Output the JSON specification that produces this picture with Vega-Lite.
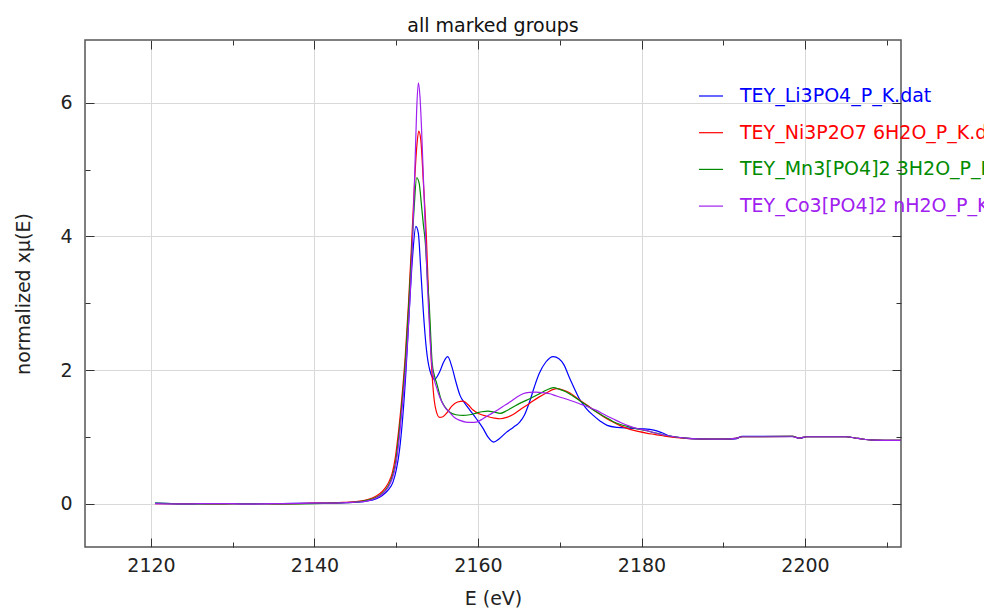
{
  "$schema": "https://vega.github.io/schema/vega-lite/v6.json",
  "autosize": {"type": "none"},
  "padding": {"left": 85, "top": 40, "right": 83, "bottom": 65},
  "width": 816,
  "height": 507,
  "title": {"text": "all marked groups", "fontSize": 19, "font": "DejaVu Sans", "fontWeight": "normal", "color": "#111", "offset": 4},
  "config": {
    "font": "DejaVu Sans",
    "view": {"stroke": "#555", "strokeWidth": 1.5},
    "axis": {"labelFont": "DejaVu Sans", "labelFontSize": 19, "labelColor": "#222", "titleFont": "DejaVu Sans", "titleFontSize": 19, "titleFontWeight": "normal", "titleColor": "#222", "tickColor": "#333", "tickWidth": 1, "gridColor": "#d9d9d9", "gridWidth": 1}
  },
  "data": {"values": [
    {"group": "TEY_Li3PO4_P_K.dat", "E": 2120.5, "mu": 0.005},
    {"group": "TEY_Li3PO4_P_K.dat", "E": 2124, "mu": -0.005},
    {"group": "TEY_Li3PO4_P_K.dat", "E": 2128, "mu": 0.0},
    {"group": "TEY_Li3PO4_P_K.dat", "E": 2132, "mu": -0.005},
    {"group": "TEY_Li3PO4_P_K.dat", "E": 2136, "mu": 0.0},
    {"group": "TEY_Li3PO4_P_K.dat", "E": 2140, "mu": 0.005},
    {"group": "TEY_Li3PO4_P_K.dat", "E": 2143, "mu": 0.01},
    {"group": "TEY_Li3PO4_P_K.dat", "E": 2145, "mu": 0.02},
    {"group": "TEY_Li3PO4_P_K.dat", "E": 2146.5, "mu": 0.04},
    {"group": "TEY_Li3PO4_P_K.dat", "E": 2147.5, "mu": 0.07},
    {"group": "TEY_Li3PO4_P_K.dat", "E": 2148.3, "mu": 0.12},
    {"group": "TEY_Li3PO4_P_K.dat", "E": 2149, "mu": 0.2},
    {"group": "TEY_Li3PO4_P_K.dat", "E": 2149.6, "mu": 0.32},
    {"group": "TEY_Li3PO4_P_K.dat", "E": 2150.0, "mu": 0.5},
    {"group": "TEY_Li3PO4_P_K.dat", "E": 2150.4, "mu": 0.8},
    {"group": "TEY_Li3PO4_P_K.dat", "E": 2150.8, "mu": 1.3},
    {"group": "TEY_Li3PO4_P_K.dat", "E": 2151.2, "mu": 2.0},
    {"group": "TEY_Li3PO4_P_K.dat", "E": 2151.6, "mu": 2.9},
    {"group": "TEY_Li3PO4_P_K.dat", "E": 2152.0, "mu": 3.7},
    {"group": "TEY_Li3PO4_P_K.dat", "E": 2152.4, "mu": 4.15},
    {"group": "TEY_Li3PO4_P_K.dat", "E": 2152.7, "mu": 4.05},
    {"group": "TEY_Li3PO4_P_K.dat", "E": 2153.0, "mu": 3.5},
    {"group": "TEY_Li3PO4_P_K.dat", "E": 2153.3, "mu": 2.9},
    {"group": "TEY_Li3PO4_P_K.dat", "E": 2153.7, "mu": 2.3},
    {"group": "TEY_Li3PO4_P_K.dat", "E": 2154.1, "mu": 2.0},
    {"group": "TEY_Li3PO4_P_K.dat", "E": 2154.7, "mu": 1.86},
    {"group": "TEY_Li3PO4_P_K.dat", "E": 2155.3, "mu": 1.97},
    {"group": "TEY_Li3PO4_P_K.dat", "E": 2155.8, "mu": 2.12},
    {"group": "TEY_Li3PO4_P_K.dat", "E": 2156.3, "mu": 2.2},
    {"group": "TEY_Li3PO4_P_K.dat", "E": 2156.8, "mu": 2.05},
    {"group": "TEY_Li3PO4_P_K.dat", "E": 2157.3, "mu": 1.82},
    {"group": "TEY_Li3PO4_P_K.dat", "E": 2157.8, "mu": 1.62},
    {"group": "TEY_Li3PO4_P_K.dat", "E": 2158.4, "mu": 1.5},
    {"group": "TEY_Li3PO4_P_K.dat", "E": 2159.0, "mu": 1.4},
    {"group": "TEY_Li3PO4_P_K.dat", "E": 2159.8, "mu": 1.27},
    {"group": "TEY_Li3PO4_P_K.dat", "E": 2160.6, "mu": 1.13},
    {"group": "TEY_Li3PO4_P_K.dat", "E": 2161.2, "mu": 1.0},
    {"group": "TEY_Li3PO4_P_K.dat", "E": 2161.9, "mu": 0.92},
    {"group": "TEY_Li3PO4_P_K.dat", "E": 2162.6, "mu": 0.97},
    {"group": "TEY_Li3PO4_P_K.dat", "E": 2163.5, "mu": 1.07},
    {"group": "TEY_Li3PO4_P_K.dat", "E": 2164.3, "mu": 1.14},
    {"group": "TEY_Li3PO4_P_K.dat", "E": 2165.1, "mu": 1.22},
    {"group": "TEY_Li3PO4_P_K.dat", "E": 2165.7, "mu": 1.33},
    {"group": "TEY_Li3PO4_P_K.dat", "E": 2166.3, "mu": 1.52},
    {"group": "TEY_Li3PO4_P_K.dat", "E": 2166.9, "mu": 1.75},
    {"group": "TEY_Li3PO4_P_K.dat", "E": 2167.5, "mu": 1.95},
    {"group": "TEY_Li3PO4_P_K.dat", "E": 2168.3, "mu": 2.12},
    {"group": "TEY_Li3PO4_P_K.dat", "E": 2169.2, "mu": 2.2},
    {"group": "TEY_Li3PO4_P_K.dat", "E": 2169.9, "mu": 2.17},
    {"group": "TEY_Li3PO4_P_K.dat", "E": 2170.5, "mu": 2.08},
    {"group": "TEY_Li3PO4_P_K.dat", "E": 2171.2, "mu": 1.88},
    {"group": "TEY_Li3PO4_P_K.dat", "E": 2171.8, "mu": 1.72},
    {"group": "TEY_Li3PO4_P_K.dat", "E": 2172.4, "mu": 1.57},
    {"group": "TEY_Li3PO4_P_K.dat", "E": 2173.2, "mu": 1.43},
    {"group": "TEY_Li3PO4_P_K.dat", "E": 2174.1, "mu": 1.32},
    {"group": "TEY_Li3PO4_P_K.dat", "E": 2175.0, "mu": 1.23},
    {"group": "TEY_Li3PO4_P_K.dat", "E": 2175.8, "mu": 1.17},
    {"group": "TEY_Li3PO4_P_K.dat", "E": 2177.0, "mu": 1.14},
    {"group": "TEY_Li3PO4_P_K.dat", "E": 2178.5, "mu": 1.13},
    {"group": "TEY_Li3PO4_P_K.dat", "E": 2180.0, "mu": 1.12},
    {"group": "TEY_Li3PO4_P_K.dat", "E": 2181.5, "mu": 1.1},
    {"group": "TEY_Li3PO4_P_K.dat", "E": 2182.5, "mu": 1.06},
    {"group": "TEY_Li3PO4_P_K.dat", "E": 2183.5, "mu": 1.01},
    {"group": "TEY_Li3PO4_P_K.dat", "E": 2185, "mu": 0.985},
    {"group": "TEY_Li3PO4_P_K.dat", "E": 2186.5, "mu": 0.97},
    {"group": "TEY_Li3PO4_P_K.dat", "E": 2190, "mu": 0.965},
    {"group": "TEY_Li3PO4_P_K.dat", "E": 2191.5, "mu": 0.97},
    {"group": "TEY_Li3PO4_P_K.dat", "E": 2192.3, "mu": 1.005},
    {"group": "TEY_Li3PO4_P_K.dat", "E": 2198.5, "mu": 1.005},
    {"group": "TEY_Li3PO4_P_K.dat", "E": 2199.3, "mu": 0.975},
    {"group": "TEY_Li3PO4_P_K.dat", "E": 2200.2, "mu": 1.0},
    {"group": "TEY_Li3PO4_P_K.dat", "E": 2205, "mu": 1.0},
    {"group": "TEY_Li3PO4_P_K.dat", "E": 2206.5, "mu": 0.975},
    {"group": "TEY_Li3PO4_P_K.dat", "E": 2208.3, "mu": 0.95},
    {"group": "TEY_Li3PO4_P_K.dat", "E": 2211.7, "mu": 0.945},

    {"group": "TEY_Ni3P2O7 6H2O_P_K.dat", "E": 2120.5, "mu": 0.0},
    {"group": "TEY_Ni3P2O7 6H2O_P_K.dat", "E": 2124, "mu": 0.0},
    {"group": "TEY_Ni3P2O7 6H2O_P_K.dat", "E": 2128, "mu": -0.005},
    {"group": "TEY_Ni3P2O7 6H2O_P_K.dat", "E": 2132, "mu": 0.0},
    {"group": "TEY_Ni3P2O7 6H2O_P_K.dat", "E": 2136, "mu": -0.005},
    {"group": "TEY_Ni3P2O7 6H2O_P_K.dat", "E": 2140, "mu": 0.005},
    {"group": "TEY_Ni3P2O7 6H2O_P_K.dat", "E": 2143, "mu": 0.015},
    {"group": "TEY_Ni3P2O7 6H2O_P_K.dat", "E": 2145, "mu": 0.03},
    {"group": "TEY_Ni3P2O7 6H2O_P_K.dat", "E": 2146.5, "mu": 0.06},
    {"group": "TEY_Ni3P2O7 6H2O_P_K.dat", "E": 2147.5, "mu": 0.11},
    {"group": "TEY_Ni3P2O7 6H2O_P_K.dat", "E": 2148.3, "mu": 0.18},
    {"group": "TEY_Ni3P2O7 6H2O_P_K.dat", "E": 2149.0, "mu": 0.3},
    {"group": "TEY_Ni3P2O7 6H2O_P_K.dat", "E": 2149.5, "mu": 0.45},
    {"group": "TEY_Ni3P2O7 6H2O_P_K.dat", "E": 2149.9, "mu": 0.7},
    {"group": "TEY_Ni3P2O7 6H2O_P_K.dat", "E": 2150.3, "mu": 1.1},
    {"group": "TEY_Ni3P2O7 6H2O_P_K.dat", "E": 2150.7, "mu": 1.6},
    {"group": "TEY_Ni3P2O7 6H2O_P_K.dat", "E": 2151.1, "mu": 2.2},
    {"group": "TEY_Ni3P2O7 6H2O_P_K.dat", "E": 2151.5, "mu": 3.0},
    {"group": "TEY_Ni3P2O7 6H2O_P_K.dat", "E": 2151.9, "mu": 3.95},
    {"group": "TEY_Ni3P2O7 6H2O_P_K.dat", "E": 2152.3, "mu": 4.95},
    {"group": "TEY_Ni3P2O7 6H2O_P_K.dat", "E": 2152.55, "mu": 5.4},
    {"group": "TEY_Ni3P2O7 6H2O_P_K.dat", "E": 2152.75, "mu": 5.58},
    {"group": "TEY_Ni3P2O7 6H2O_P_K.dat", "E": 2153.0, "mu": 5.45},
    {"group": "TEY_Ni3P2O7 6H2O_P_K.dat", "E": 2153.3, "mu": 4.85},
    {"group": "TEY_Ni3P2O7 6H2O_P_K.dat", "E": 2153.7, "mu": 3.95},
    {"group": "TEY_Ni3P2O7 6H2O_P_K.dat", "E": 2154.0, "mu": 2.94},
    {"group": "TEY_Ni3P2O7 6H2O_P_K.dat", "E": 2154.3, "mu": 2.1},
    {"group": "TEY_Ni3P2O7 6H2O_P_K.dat", "E": 2154.6, "mu": 1.6},
    {"group": "TEY_Ni3P2O7 6H2O_P_K.dat", "E": 2154.9, "mu": 1.38},
    {"group": "TEY_Ni3P2O7 6H2O_P_K.dat", "E": 2155.3, "mu": 1.29},
    {"group": "TEY_Ni3P2O7 6H2O_P_K.dat", "E": 2155.7, "mu": 1.3},
    {"group": "TEY_Ni3P2O7 6H2O_P_K.dat", "E": 2156.2, "mu": 1.36},
    {"group": "TEY_Ni3P2O7 6H2O_P_K.dat", "E": 2156.8, "mu": 1.46},
    {"group": "TEY_Ni3P2O7 6H2O_P_K.dat", "E": 2157.5, "mu": 1.52},
    {"group": "TEY_Ni3P2O7 6H2O_P_K.dat", "E": 2158.2, "mu": 1.535},
    {"group": "TEY_Ni3P2O7 6H2O_P_K.dat", "E": 2158.8, "mu": 1.48},
    {"group": "TEY_Ni3P2O7 6H2O_P_K.dat", "E": 2159.4, "mu": 1.4},
    {"group": "TEY_Ni3P2O7 6H2O_P_K.dat", "E": 2160.2, "mu": 1.34},
    {"group": "TEY_Ni3P2O7 6H2O_P_K.dat", "E": 2161.0, "mu": 1.31},
    {"group": "TEY_Ni3P2O7 6H2O_P_K.dat", "E": 2162.0, "mu": 1.28},
    {"group": "TEY_Ni3P2O7 6H2O_P_K.dat", "E": 2162.7, "mu": 1.27},
    {"group": "TEY_Ni3P2O7 6H2O_P_K.dat", "E": 2163.5, "mu": 1.29},
    {"group": "TEY_Ni3P2O7 6H2O_P_K.dat", "E": 2164.3, "mu": 1.335},
    {"group": "TEY_Ni3P2O7 6H2O_P_K.dat", "E": 2165.3, "mu": 1.42},
    {"group": "TEY_Ni3P2O7 6H2O_P_K.dat", "E": 2166.3, "mu": 1.5},
    {"group": "TEY_Ni3P2O7 6H2O_P_K.dat", "E": 2167.4, "mu": 1.59},
    {"group": "TEY_Ni3P2O7 6H2O_P_K.dat", "E": 2168.4, "mu": 1.66},
    {"group": "TEY_Ni3P2O7 6H2O_P_K.dat", "E": 2169.6, "mu": 1.72},
    {"group": "TEY_Ni3P2O7 6H2O_P_K.dat", "E": 2170.4, "mu": 1.7},
    {"group": "TEY_Ni3P2O7 6H2O_P_K.dat", "E": 2171.2, "mu": 1.66},
    {"group": "TEY_Ni3P2O7 6H2O_P_K.dat", "E": 2172.4, "mu": 1.55},
    {"group": "TEY_Ni3P2O7 6H2O_P_K.dat", "E": 2173.5, "mu": 1.46},
    {"group": "TEY_Ni3P2O7 6H2O_P_K.dat", "E": 2174.5, "mu": 1.37},
    {"group": "TEY_Ni3P2O7 6H2O_P_K.dat", "E": 2175.5, "mu": 1.29},
    {"group": "TEY_Ni3P2O7 6H2O_P_K.dat", "E": 2176.5, "mu": 1.22},
    {"group": "TEY_Ni3P2O7 6H2O_P_K.dat", "E": 2177.5, "mu": 1.16},
    {"group": "TEY_Ni3P2O7 6H2O_P_K.dat", "E": 2178.6, "mu": 1.11},
    {"group": "TEY_Ni3P2O7 6H2O_P_K.dat", "E": 2179.6, "mu": 1.08},
    {"group": "TEY_Ni3P2O7 6H2O_P_K.dat", "E": 2180.6, "mu": 1.055},
    {"group": "TEY_Ni3P2O7 6H2O_P_K.dat", "E": 2181.6, "mu": 1.035},
    {"group": "TEY_Ni3P2O7 6H2O_P_K.dat", "E": 2182.6, "mu": 1.015},
    {"group": "TEY_Ni3P2O7 6H2O_P_K.dat", "E": 2184, "mu": 0.99},
    {"group": "TEY_Ni3P2O7 6H2O_P_K.dat", "E": 2185.5, "mu": 0.975},
    {"group": "TEY_Ni3P2O7 6H2O_P_K.dat", "E": 2187, "mu": 0.97},
    {"group": "TEY_Ni3P2O7 6H2O_P_K.dat", "E": 2190, "mu": 0.965},
    {"group": "TEY_Ni3P2O7 6H2O_P_K.dat", "E": 2191.5, "mu": 0.975},
    {"group": "TEY_Ni3P2O7 6H2O_P_K.dat", "E": 2192.3, "mu": 1.0},
    {"group": "TEY_Ni3P2O7 6H2O_P_K.dat", "E": 2198.5, "mu": 1.005},
    {"group": "TEY_Ni3P2O7 6H2O_P_K.dat", "E": 2199.3, "mu": 0.98},
    {"group": "TEY_Ni3P2O7 6H2O_P_K.dat", "E": 2200.2, "mu": 1.0},
    {"group": "TEY_Ni3P2O7 6H2O_P_K.dat", "E": 2205, "mu": 1.0},
    {"group": "TEY_Ni3P2O7 6H2O_P_K.dat", "E": 2206.5, "mu": 0.975},
    {"group": "TEY_Ni3P2O7 6H2O_P_K.dat", "E": 2208.3, "mu": 0.95},
    {"group": "TEY_Ni3P2O7 6H2O_P_K.dat", "E": 2211.7, "mu": 0.945},

    {"group": "TEY_Mn3[PO4]2 3H2O_P_K.dat", "E": 2120.5, "mu": 0.005},
    {"group": "TEY_Mn3[PO4]2 3H2O_P_K.dat", "E": 2124, "mu": -0.005},
    {"group": "TEY_Mn3[PO4]2 3H2O_P_K.dat", "E": 2128, "mu": -0.005},
    {"group": "TEY_Mn3[PO4]2 3H2O_P_K.dat", "E": 2132, "mu": 0.0},
    {"group": "TEY_Mn3[PO4]2 3H2O_P_K.dat", "E": 2136, "mu": -0.005},
    {"group": "TEY_Mn3[PO4]2 3H2O_P_K.dat", "E": 2140, "mu": 0.0},
    {"group": "TEY_Mn3[PO4]2 3H2O_P_K.dat", "E": 2143, "mu": 0.01},
    {"group": "TEY_Mn3[PO4]2 3H2O_P_K.dat", "E": 2145, "mu": 0.02},
    {"group": "TEY_Mn3[PO4]2 3H2O_P_K.dat", "E": 2146.5, "mu": 0.05},
    {"group": "TEY_Mn3[PO4]2 3H2O_P_K.dat", "E": 2147.5, "mu": 0.09},
    {"group": "TEY_Mn3[PO4]2 3H2O_P_K.dat", "E": 2148.3, "mu": 0.15},
    {"group": "TEY_Mn3[PO4]2 3H2O_P_K.dat", "E": 2149.0, "mu": 0.26},
    {"group": "TEY_Mn3[PO4]2 3H2O_P_K.dat", "E": 2149.5, "mu": 0.4},
    {"group": "TEY_Mn3[PO4]2 3H2O_P_K.dat", "E": 2149.9, "mu": 0.6},
    {"group": "TEY_Mn3[PO4]2 3H2O_P_K.dat", "E": 2150.3, "mu": 1.0},
    {"group": "TEY_Mn3[PO4]2 3H2O_P_K.dat", "E": 2150.7, "mu": 1.5},
    {"group": "TEY_Mn3[PO4]2 3H2O_P_K.dat", "E": 2151.1, "mu": 2.1},
    {"group": "TEY_Mn3[PO4]2 3H2O_P_K.dat", "E": 2151.5, "mu": 2.9},
    {"group": "TEY_Mn3[PO4]2 3H2O_P_K.dat", "E": 2151.9, "mu": 3.8},
    {"group": "TEY_Mn3[PO4]2 3H2O_P_K.dat", "E": 2152.2, "mu": 4.45},
    {"group": "TEY_Mn3[PO4]2 3H2O_P_K.dat", "E": 2152.5, "mu": 4.88},
    {"group": "TEY_Mn3[PO4]2 3H2O_P_K.dat", "E": 2152.8, "mu": 4.8},
    {"group": "TEY_Mn3[PO4]2 3H2O_P_K.dat", "E": 2153.1, "mu": 4.45},
    {"group": "TEY_Mn3[PO4]2 3H2O_P_K.dat", "E": 2153.3, "mu": 4.2},
    {"group": "TEY_Mn3[PO4]2 3H2O_P_K.dat", "E": 2153.56, "mu": 3.9},
    {"group": "TEY_Mn3[PO4]2 3H2O_P_K.dat", "E": 2153.8, "mu": 3.4},
    {"group": "TEY_Mn3[PO4]2 3H2O_P_K.dat", "E": 2154.05, "mu": 2.94},
    {"group": "TEY_Mn3[PO4]2 3H2O_P_K.dat", "E": 2154.4, "mu": 2.1},
    {"group": "TEY_Mn3[PO4]2 3H2O_P_K.dat", "E": 2154.7, "mu": 1.9},
    {"group": "TEY_Mn3[PO4]2 3H2O_P_K.dat", "E": 2154.95, "mu": 1.8},
    {"group": "TEY_Mn3[PO4]2 3H2O_P_K.dat", "E": 2155.5, "mu": 1.55},
    {"group": "TEY_Mn3[PO4]2 3H2O_P_K.dat", "E": 2156.0, "mu": 1.44},
    {"group": "TEY_Mn3[PO4]2 3H2O_P_K.dat", "E": 2156.5, "mu": 1.37},
    {"group": "TEY_Mn3[PO4]2 3H2O_P_K.dat", "E": 2157.3, "mu": 1.33},
    {"group": "TEY_Mn3[PO4]2 3H2O_P_K.dat", "E": 2158.2, "mu": 1.32},
    {"group": "TEY_Mn3[PO4]2 3H2O_P_K.dat", "E": 2159.0, "mu": 1.33},
    {"group": "TEY_Mn3[PO4]2 3H2O_P_K.dat", "E": 2159.8, "mu": 1.355},
    {"group": "TEY_Mn3[PO4]2 3H2O_P_K.dat", "E": 2160.5, "mu": 1.375},
    {"group": "TEY_Mn3[PO4]2 3H2O_P_K.dat", "E": 2161.2, "mu": 1.385},
    {"group": "TEY_Mn3[PO4]2 3H2O_P_K.dat", "E": 2162.0, "mu": 1.37},
    {"group": "TEY_Mn3[PO4]2 3H2O_P_K.dat", "E": 2162.7, "mu": 1.35},
    {"group": "TEY_Mn3[PO4]2 3H2O_P_K.dat", "E": 2163.5, "mu": 1.39},
    {"group": "TEY_Mn3[PO4]2 3H2O_P_K.dat", "E": 2164.3, "mu": 1.445},
    {"group": "TEY_Mn3[PO4]2 3H2O_P_K.dat", "E": 2165.1, "mu": 1.5},
    {"group": "TEY_Mn3[PO4]2 3H2O_P_K.dat", "E": 2165.9, "mu": 1.545},
    {"group": "TEY_Mn3[PO4]2 3H2O_P_K.dat", "E": 2166.8, "mu": 1.6},
    {"group": "TEY_Mn3[PO4]2 3H2O_P_K.dat", "E": 2167.6, "mu": 1.65},
    {"group": "TEY_Mn3[PO4]2 3H2O_P_K.dat", "E": 2168.4, "mu": 1.7},
    {"group": "TEY_Mn3[PO4]2 3H2O_P_K.dat", "E": 2169.2, "mu": 1.735},
    {"group": "TEY_Mn3[PO4]2 3H2O_P_K.dat", "E": 2170.0, "mu": 1.71},
    {"group": "TEY_Mn3[PO4]2 3H2O_P_K.dat", "E": 2170.8, "mu": 1.67},
    {"group": "TEY_Mn3[PO4]2 3H2O_P_K.dat", "E": 2171.6, "mu": 1.61},
    {"group": "TEY_Mn3[PO4]2 3H2O_P_K.dat", "E": 2172.4, "mu": 1.545},
    {"group": "TEY_Mn3[PO4]2 3H2O_P_K.dat", "E": 2173.5, "mu": 1.455},
    {"group": "TEY_Mn3[PO4]2 3H2O_P_K.dat", "E": 2174.5, "mu": 1.37},
    {"group": "TEY_Mn3[PO4]2 3H2O_P_K.dat", "E": 2175.5, "mu": 1.3},
    {"group": "TEY_Mn3[PO4]2 3H2O_P_K.dat", "E": 2176.5, "mu": 1.23},
    {"group": "TEY_Mn3[PO4]2 3H2O_P_K.dat", "E": 2177.5, "mu": 1.18},
    {"group": "TEY_Mn3[PO4]2 3H2O_P_K.dat", "E": 2178.6, "mu": 1.145},
    {"group": "TEY_Mn3[PO4]2 3H2O_P_K.dat", "E": 2179.6, "mu": 1.115},
    {"group": "TEY_Mn3[PO4]2 3H2O_P_K.dat", "E": 2180.6, "mu": 1.09},
    {"group": "TEY_Mn3[PO4]2 3H2O_P_K.dat", "E": 2181.6, "mu": 1.06},
    {"group": "TEY_Mn3[PO4]2 3H2O_P_K.dat", "E": 2182.6, "mu": 1.03},
    {"group": "TEY_Mn3[PO4]2 3H2O_P_K.dat", "E": 2184, "mu": 1.0},
    {"group": "TEY_Mn3[PO4]2 3H2O_P_K.dat", "E": 2185.5, "mu": 0.98},
    {"group": "TEY_Mn3[PO4]2 3H2O_P_K.dat", "E": 2187, "mu": 0.97},
    {"group": "TEY_Mn3[PO4]2 3H2O_P_K.dat", "E": 2190, "mu": 0.965},
    {"group": "TEY_Mn3[PO4]2 3H2O_P_K.dat", "E": 2191.5, "mu": 0.975},
    {"group": "TEY_Mn3[PO4]2 3H2O_P_K.dat", "E": 2192.3, "mu": 1.0},
    {"group": "TEY_Mn3[PO4]2 3H2O_P_K.dat", "E": 2198.5, "mu": 1.005},
    {"group": "TEY_Mn3[PO4]2 3H2O_P_K.dat", "E": 2199.3, "mu": 0.98},
    {"group": "TEY_Mn3[PO4]2 3H2O_P_K.dat", "E": 2200.2, "mu": 1.0},
    {"group": "TEY_Mn3[PO4]2 3H2O_P_K.dat", "E": 2205, "mu": 1.0},
    {"group": "TEY_Mn3[PO4]2 3H2O_P_K.dat", "E": 2206.5, "mu": 0.975},
    {"group": "TEY_Mn3[PO4]2 3H2O_P_K.dat", "E": 2208.3, "mu": 0.95},
    {"group": "TEY_Mn3[PO4]2 3H2O_P_K.dat", "E": 2211.7, "mu": 0.945},

    {"group": "TEY_Co3[PO4]2 nH2O_P_K.dat", "E": 2120.5, "mu": 0.0},
    {"group": "TEY_Co3[PO4]2 nH2O_P_K.dat", "E": 2124, "mu": -0.005},
    {"group": "TEY_Co3[PO4]2 nH2O_P_K.dat", "E": 2128, "mu": 0.0},
    {"group": "TEY_Co3[PO4]2 nH2O_P_K.dat", "E": 2132, "mu": -0.005},
    {"group": "TEY_Co3[PO4]2 nH2O_P_K.dat", "E": 2136, "mu": 0.0},
    {"group": "TEY_Co3[PO4]2 nH2O_P_K.dat", "E": 2140, "mu": 0.005},
    {"group": "TEY_Co3[PO4]2 nH2O_P_K.dat", "E": 2143, "mu": 0.01},
    {"group": "TEY_Co3[PO4]2 nH2O_P_K.dat", "E": 2145, "mu": 0.02},
    {"group": "TEY_Co3[PO4]2 nH2O_P_K.dat", "E": 2146.5, "mu": 0.04},
    {"group": "TEY_Co3[PO4]2 nH2O_P_K.dat", "E": 2147.5, "mu": 0.08},
    {"group": "TEY_Co3[PO4]2 nH2O_P_K.dat", "E": 2148.3, "mu": 0.14},
    {"group": "TEY_Co3[PO4]2 nH2O_P_K.dat", "E": 2149.0, "mu": 0.24},
    {"group": "TEY_Co3[PO4]2 nH2O_P_K.dat", "E": 2149.5, "mu": 0.37},
    {"group": "TEY_Co3[PO4]2 nH2O_P_K.dat", "E": 2149.9, "mu": 0.55},
    {"group": "TEY_Co3[PO4]2 nH2O_P_K.dat", "E": 2150.3, "mu": 0.9},
    {"group": "TEY_Co3[PO4]2 nH2O_P_K.dat", "E": 2150.7, "mu": 1.4},
    {"group": "TEY_Co3[PO4]2 nH2O_P_K.dat", "E": 2151.2, "mu": 2.1},
    {"group": "TEY_Co3[PO4]2 nH2O_P_K.dat", "E": 2151.6, "mu": 2.9},
    {"group": "TEY_Co3[PO4]2 nH2O_P_K.dat", "E": 2152.0, "mu": 3.95},
    {"group": "TEY_Co3[PO4]2 nH2O_P_K.dat", "E": 2152.3, "mu": 5.1},
    {"group": "TEY_Co3[PO4]2 nH2O_P_K.dat", "E": 2152.5, "mu": 5.9},
    {"group": "TEY_Co3[PO4]2 nH2O_P_K.dat", "E": 2152.7, "mu": 6.3},
    {"group": "TEY_Co3[PO4]2 nH2O_P_K.dat", "E": 2152.9, "mu": 6.1},
    {"group": "TEY_Co3[PO4]2 nH2O_P_K.dat", "E": 2153.1, "mu": 5.6},
    {"group": "TEY_Co3[PO4]2 nH2O_P_K.dat", "E": 2153.3, "mu": 4.95},
    {"group": "TEY_Co3[PO4]2 nH2O_P_K.dat", "E": 2153.6, "mu": 3.95},
    {"group": "TEY_Co3[PO4]2 nH2O_P_K.dat", "E": 2153.8, "mu": 3.3},
    {"group": "TEY_Co3[PO4]2 nH2O_P_K.dat", "E": 2154.0, "mu": 2.8},
    {"group": "TEY_Co3[PO4]2 nH2O_P_K.dat", "E": 2154.3, "mu": 2.15},
    {"group": "TEY_Co3[PO4]2 nH2O_P_K.dat", "E": 2154.5, "mu": 1.94},
    {"group": "TEY_Co3[PO4]2 nH2O_P_K.dat", "E": 2154.9, "mu": 1.75},
    {"group": "TEY_Co3[PO4]2 nH2O_P_K.dat", "E": 2155.3, "mu": 1.6},
    {"group": "TEY_Co3[PO4]2 nH2O_P_K.dat", "E": 2155.9, "mu": 1.45},
    {"group": "TEY_Co3[PO4]2 nH2O_P_K.dat", "E": 2156.5, "mu": 1.37},
    {"group": "TEY_Co3[PO4]2 nH2O_P_K.dat", "E": 2157.2, "mu": 1.28},
    {"group": "TEY_Co3[PO4]2 nH2O_P_K.dat", "E": 2157.8, "mu": 1.245},
    {"group": "TEY_Co3[PO4]2 nH2O_P_K.dat", "E": 2158.5, "mu": 1.22},
    {"group": "TEY_Co3[PO4]2 nH2O_P_K.dat", "E": 2159.2, "mu": 1.215},
    {"group": "TEY_Co3[PO4]2 nH2O_P_K.dat", "E": 2159.8, "mu": 1.22},
    {"group": "TEY_Co3[PO4]2 nH2O_P_K.dat", "E": 2160.6, "mu": 1.27},
    {"group": "TEY_Co3[PO4]2 nH2O_P_K.dat", "E": 2161.4, "mu": 1.33},
    {"group": "TEY_Co3[PO4]2 nH2O_P_K.dat", "E": 2162.2, "mu": 1.385},
    {"group": "TEY_Co3[PO4]2 nH2O_P_K.dat", "E": 2163.0, "mu": 1.45},
    {"group": "TEY_Co3[PO4]2 nH2O_P_K.dat", "E": 2163.9, "mu": 1.52},
    {"group": "TEY_Co3[PO4]2 nH2O_P_K.dat", "E": 2164.7, "mu": 1.59},
    {"group": "TEY_Co3[PO4]2 nH2O_P_K.dat", "E": 2165.5, "mu": 1.645},
    {"group": "TEY_Co3[PO4]2 nH2O_P_K.dat", "E": 2166.3, "mu": 1.665},
    {"group": "TEY_Co3[PO4]2 nH2O_P_K.dat", "E": 2167.1, "mu": 1.67},
    {"group": "TEY_Co3[PO4]2 nH2O_P_K.dat", "E": 2168.0, "mu": 1.66},
    {"group": "TEY_Co3[PO4]2 nH2O_P_K.dat", "E": 2168.8, "mu": 1.645},
    {"group": "TEY_Co3[PO4]2 nH2O_P_K.dat", "E": 2169.6, "mu": 1.61},
    {"group": "TEY_Co3[PO4]2 nH2O_P_K.dat", "E": 2170.4, "mu": 1.58},
    {"group": "TEY_Co3[PO4]2 nH2O_P_K.dat", "E": 2171.4, "mu": 1.54},
    {"group": "TEY_Co3[PO4]2 nH2O_P_K.dat", "E": 2172.4, "mu": 1.495},
    {"group": "TEY_Co3[PO4]2 nH2O_P_K.dat", "E": 2173.5, "mu": 1.445},
    {"group": "TEY_Co3[PO4]2 nH2O_P_K.dat", "E": 2174.5, "mu": 1.395},
    {"group": "TEY_Co3[PO4]2 nH2O_P_K.dat", "E": 2175.5, "mu": 1.33},
    {"group": "TEY_Co3[PO4]2 nH2O_P_K.dat", "E": 2176.5, "mu": 1.27},
    {"group": "TEY_Co3[PO4]2 nH2O_P_K.dat", "E": 2177.5, "mu": 1.21},
    {"group": "TEY_Co3[PO4]2 nH2O_P_K.dat", "E": 2178.6, "mu": 1.155},
    {"group": "TEY_Co3[PO4]2 nH2O_P_K.dat", "E": 2179.6, "mu": 1.12},
    {"group": "TEY_Co3[PO4]2 nH2O_P_K.dat", "E": 2180.6, "mu": 1.095},
    {"group": "TEY_Co3[PO4]2 nH2O_P_K.dat", "E": 2181.6, "mu": 1.06},
    {"group": "TEY_Co3[PO4]2 nH2O_P_K.dat", "E": 2182.6, "mu": 1.03},
    {"group": "TEY_Co3[PO4]2 nH2O_P_K.dat", "E": 2184, "mu": 1.0},
    {"group": "TEY_Co3[PO4]2 nH2O_P_K.dat", "E": 2185.5, "mu": 0.98},
    {"group": "TEY_Co3[PO4]2 nH2O_P_K.dat", "E": 2187, "mu": 0.97},
    {"group": "TEY_Co3[PO4]2 nH2O_P_K.dat", "E": 2190, "mu": 0.965},
    {"group": "TEY_Co3[PO4]2 nH2O_P_K.dat", "E": 2191.5, "mu": 0.975},
    {"group": "TEY_Co3[PO4]2 nH2O_P_K.dat", "E": 2192.3, "mu": 1.0},
    {"group": "TEY_Co3[PO4]2 nH2O_P_K.dat", "E": 2198.5, "mu": 1.0},
    {"group": "TEY_Co3[PO4]2 nH2O_P_K.dat", "E": 2199.3, "mu": 0.98},
    {"group": "TEY_Co3[PO4]2 nH2O_P_K.dat", "E": 2200.2, "mu": 1.0},
    {"group": "TEY_Co3[PO4]2 nH2O_P_K.dat", "E": 2205, "mu": 1.0},
    {"group": "TEY_Co3[PO4]2 nH2O_P_K.dat", "E": 2206.5, "mu": 0.975},
    {"group": "TEY_Co3[PO4]2 nH2O_P_K.dat", "E": 2208.3, "mu": 0.95},
    {"group": "TEY_Co3[PO4]2 nH2O_P_K.dat", "E": 2211.7, "mu": 0.945}
  ]},
  "layer": [
    {
      "mark": {"type": "line", "strokeWidth": 1.2, "interpolate": "monotone", "clip": true},
      "encoding": {
        "x": {"field": "E", "type": "quantitative", "scale": {"domain": [2111.93, 2211.74], "nice": false, "zero": false},
          "axis": {"orient": "bottom", "values": [2120, 2140, 2160, 2180, 2200], "grid": true, "ticks": false, "domain": false, "labelPadding": 9, "title": "E (eV)", "titlePadding": 14, "format": "d"}},
        "y": {"field": "mu", "type": "quantitative", "scale": {"domain": [-0.651, 6.943], "nice": false, "zero": false},
          "axis": {"orient": "left", "values": [0, 2, 4, 6], "grid": true, "ticks": false, "domain": false, "labelPadding": 13, "title": "normalized xμ(E)", "titlePadding": 26}},
        "color": {"field": "group", "type": "nominal",
          "scale": {"domain": ["TEY_Li3PO4_P_K.dat", "TEY_Ni3P2O7 6H2O_P_K.dat", "TEY_Mn3[PO4]2 3H2O_P_K.dat", "TEY_Co3[PO4]2 nH2O_P_K.dat"], "range": ["#0000ff", "#ff0000", "#008b00", "#a020f0"]},
          "legend": {"title": null, "orient": "none", "legendX": 613, "legendY": 43, "symbolType": "stroke", "symbolSize": 576, "symbolStrokeWidth": 1.2, "labelFont": "DejaVu Sans", "labelFontSize": 19, "labelOffset": 16, "labelLimit": 600, "rowPadding": 13.7, "padding": 0,
            "encode": {"labels": {"update": {"fill": {"scale": "color", "field": "value"}}}}}}
      }
    },
    {
      "mark": {"type": "point", "opacity": 0},
      "encoding": {
        "x": {"field": "E", "type": "quantitative", "scale": {"domain": [2111.93, 2211.74], "nice": false, "zero": false},
          "axis": {"orient": "top", "offset": -507, "values": [2120, 2140, 2160, 2180, 2200], "grid": false, "ticks": true, "tickSize": 9, "labels": false, "domain": false, "title": null}},
        "y": {"field": "mu", "type": "quantitative", "scale": {"domain": [-0.651, 6.943], "nice": false, "zero": false},
          "axis": {"orient": "right", "offset": -816, "values": [0, 2, 4, 6], "grid": false, "ticks": true, "tickSize": 9, "labels": false, "domain": false, "title": null}}
      }
    },
    {
      "mark": {"type": "point", "opacity": 0},
      "encoding": {
        "x": {"field": "E", "type": "quantitative", "scale": {"domain": [2111.93, 2211.74], "nice": false, "zero": false},
          "axis": {"orient": "top", "offset": -507, "values": [2130, 2150, 2170, 2190, 2210], "grid": false, "ticks": true, "tickSize": 5, "labels": false, "domain": false, "title": null}},
        "y": {"field": "mu", "type": "quantitative", "scale": {"domain": [-0.651, 6.943], "nice": false, "zero": false},
          "axis": {"orient": "right", "offset": -816, "values": [1, 3, 5], "grid": false, "ticks": true, "tickSize": 5, "labels": false, "domain": false, "title": null}}
      }
    },
    {
      "mark": {"type": "point", "opacity": 0},
      "encoding": {
        "x": {"field": "E", "type": "quantitative", "scale": {"domain": [2111.93, 2211.74], "nice": false, "zero": false},
          "axis": {"orient": "bottom", "offset": -507, "values": [2120, 2140, 2160, 2180, 2200], "grid": false, "ticks": true, "tickSize": 9, "labels": false, "domain": false, "title": null}},
        "y": {"field": "mu", "type": "quantitative", "scale": {"domain": [-0.651, 6.943], "nice": false, "zero": false},
          "axis": {"orient": "left", "offset": -816, "values": [0, 2, 4, 6], "grid": false, "ticks": true, "tickSize": 9, "labels": false, "domain": false, "title": null}}
      }
    },
    {
      "mark": {"type": "point", "opacity": 0},
      "encoding": {
        "x": {"field": "E", "type": "quantitative", "scale": {"domain": [2111.93, 2211.74], "nice": false, "zero": false},
          "axis": {"orient": "bottom", "offset": -507, "values": [2130, 2150, 2170, 2190, 2210], "grid": false, "ticks": true, "tickSize": 5, "labels": false, "domain": false, "title": null}},
        "y": {"field": "mu", "type": "quantitative", "scale": {"domain": [-0.651, 6.943], "nice": false, "zero": false},
          "axis": {"orient": "left", "offset": -816, "values": [1, 3, 5], "grid": false, "ticks": true, "tickSize": 5, "labels": false, "domain": false, "title": null}}
      }
    }
  ],
  "resolve": {"axis": {"x": "independent", "y": "independent"}}
}
